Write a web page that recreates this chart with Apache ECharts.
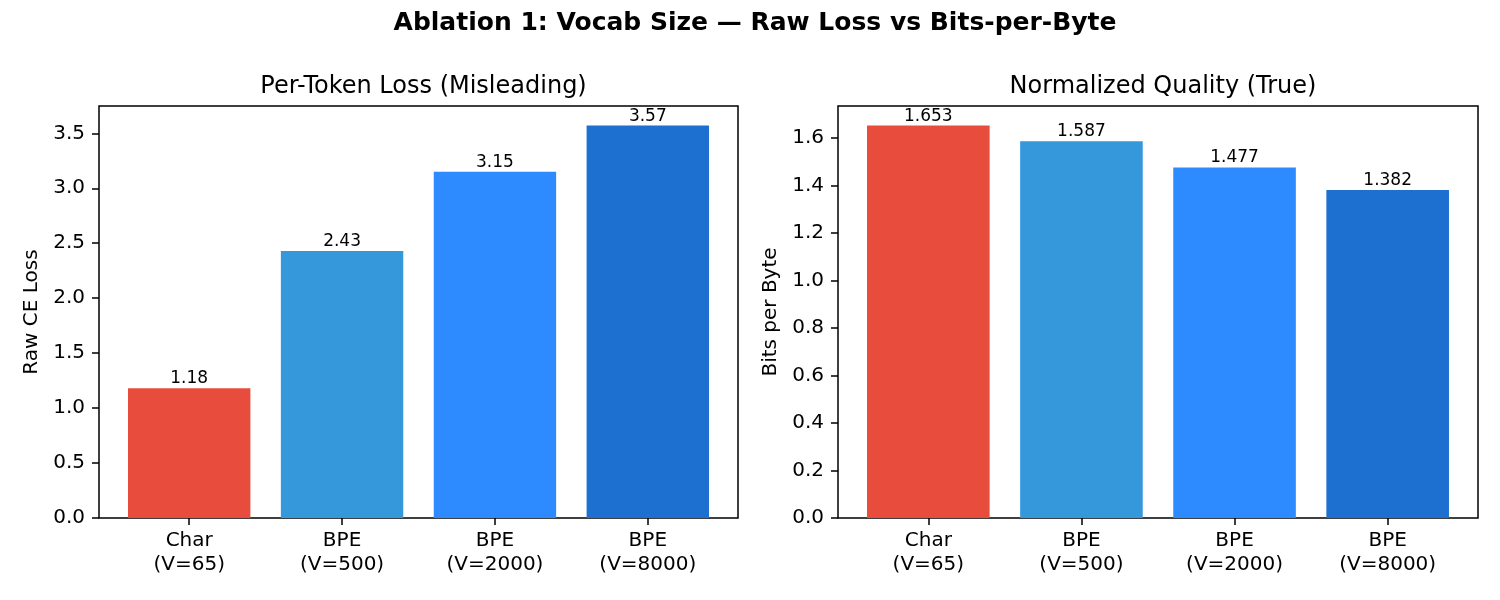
<!DOCTYPE html>
<html>
<head>
<meta charset="utf-8">
<script src="https://cdn.jsdelivr.net/npm/echarts@6/dist/echarts.min.js"></script>
<style>html,body{margin:0;padding:0;background:#fff}#c{width:1500px;height:600px}</style>
</head>
<body>
<div id="c"></div>
<script>
const categories = ['Char\n(V=65)', 'BPE\n(V=500)', 'BPE\n(V=2000)', 'BPE\n(V=8000)'];
const rawLoss = [1.18, 2.43, 3.15, 3.57];
const bitsPerByte = [1.653, 1.587, 1.477, 1.382];
const colors = ['#E74C3C', '#3498DB', '#2E8BFF', '#1D6FD0'];
const yTicksLeft = [0, 0.5, 1.0, 1.5, 2.0, 2.5, 3.0, 3.5];
const yTicksRight = [0, 0.2, 0.4, 0.6, 0.8, 1.0, 1.2, 1.4, 1.6];
const xPositions = [0, 1, 2, 3];

const FONT = 'DejaVu Sans';
const chart = echarts.init(document.getElementById('c'), null, {renderer: 'canvas'});

function xAxisDef(gridIndex) {
  return {
    type: 'value', gridIndex, min: -0.59, max: 3.59,
    axisLine: {show: false, onZero: false},
    splitLine: {show: false},
    axisTick: {show: true, customValues: xPositions, length: 7, lineStyle: {color: '#000', width: 1.5}},
    axisLabel: {
      customValues: xPositions, margin: 11, fontFamily: FONT, fontSize: 20, color: '#000', lineHeight: 24,
      formatter: v => categories[Math.round(v)]
    }
  };
}
function yAxisDef(gridIndex, max, ticks, name, dec) {
  return {
    type: 'value', gridIndex, min: 0, max,
    name, nameLocation: 'middle', nameGap: 57,
    nameTextStyle: {fontFamily: FONT, fontSize: 20, color: '#000'},
    axisLine: {show: false, onZero: false},
    splitLine: {show: false},
    axisTick: {show: true, customValues: ticks, length: 7, lineStyle: {color: '#000', width: 1.5}},
    axisLabel: {customValues: ticks, margin: 14, fontFamily: FONT, fontSize: 20, color: '#000',
      formatter: v => v.toFixed(dec)}
  };
}
function barSeries(idx, vals, dec, width) {
  return {
    type: 'bar', xAxisIndex: idx, yAxisIndex: idx, barWidth: width,
    data: vals.map((v, i) => ({value: [xPositions[i], v], itemStyle: {color: colors[i]}})),
    label: {show: true, position: 'top', distance: 1, fontFamily: FONT, fontSize: 17, color: '#000',
      formatter: p => p.value[1].toFixed(dec)},
    animation: false
  };
}

chart.setOption({
  animation: false,
  backgroundColor: '#fff',
  title: [
    {text: 'Ablation 1: Vocab Size — Raw Loss vs Bits-per-Byte', left: 750, textAlign: 'center', top: 3,
      textStyle: {fontFamily: FONT, fontSize: 25, fontWeight: 'bold', color: '#000', lineHeight: 30}},
    {text: 'Per-Token Loss (Misleading)', left: 418.5, textAlign: 'center', top: 67,
      textStyle: {fontFamily: FONT, fontSize: 24, fontWeight: 'normal', color: '#000', lineHeight: 30}},
    {text: 'Normalized Quality (True)', left: 1158, textAlign: 'center', top: 67,
      textStyle: {fontFamily: FONT, fontSize: 24, fontWeight: 'normal', color: '#000', lineHeight: 30}}
  ],
  grid: [
    {left: 99, right: 762, top: 106, bottom: 82, show: true, borderColor: '#000', borderWidth: 1.5, backgroundColor: 'transparent'},
    {left: 838, right: 22, top: 106, bottom: 82, show: true, borderColor: '#000', borderWidth: 1.5, backgroundColor: 'transparent'}
  ],
  xAxis: [xAxisDef(0), xAxisDef(1)],
  yAxis: [
    yAxisDef(0, 3.57 * 1.05, yTicksLeft, 'Raw CE Loss', 1),
    yAxisDef(1, 1.653 * 1.05, yTicksRight, 'Bits per Byte', 1)
  ],
  series: [barSeries(0, rawLoss, 2, 122.4), barSeries(1, bitsPerByte, 3, 122.6)]
});
</script>
</body>
</html>
